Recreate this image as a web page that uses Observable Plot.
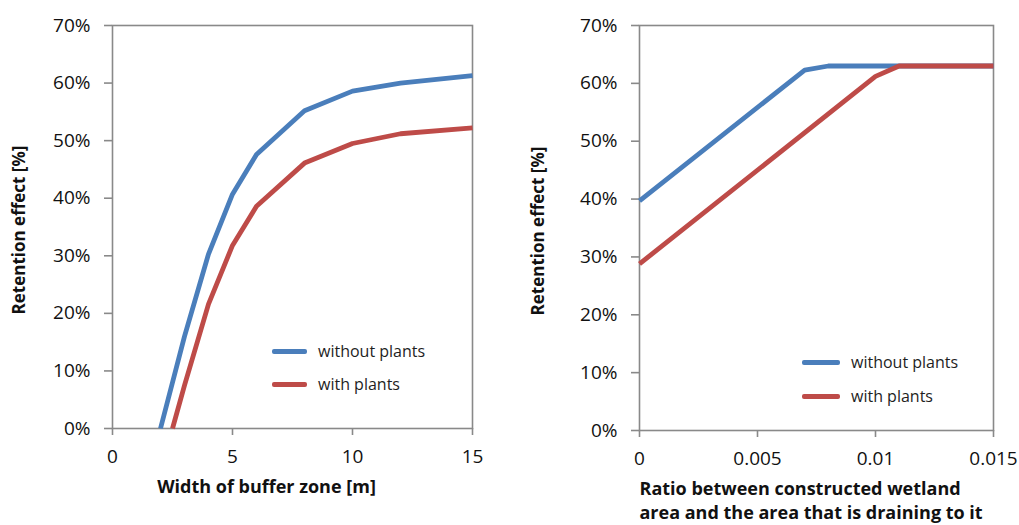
<!DOCTYPE html>
<html>
<head>
<meta charset="utf-8">
<script src="https://cdn.jsdelivr.net/npm/d3@7"></script>
<script src="https://cdn.jsdelivr.net/npm/@observablehq/plot@0.6"></script>
<style>
  html, body { margin: 0; padding: 0; background: #fff; }
  #wrap { position: relative; width: 1019px; height: 525px; overflow: hidden; font-family: "Open Sans", sans-serif; }
  .panel { position: absolute; top: 0; }
  .legend { position: absolute; font-family: "Open Sans", sans-serif; font-size: 16px; color: #1e1e1e; }
  .legend .row { position: absolute; white-space: nowrap; display: flex; align-items: center; }
  .legend .sw { display: inline-block; height: 5px; border-radius: 2px; margin-right: 11px; }
</style>
</head>
<body>
<div id="wrap"></div>
<script>
// ---- Data ----
const seriesNames = ["without plants", "with plants"];
const seriesColors = ["#4a7ebb", "#be4b48"];

// Left panel: width of buffer zone [m]
const bufferWidthWithout = [2, 3, 4, 5, 6, 8, 10, 12, 15];
const retentionBufferWithout = [0, 0.16, 0.303, 0.407, 0.476, 0.552, 0.586, 0.600, 0.613];
const bufferWidthWith = [2.5, 3, 4, 5, 6, 8, 10, 12, 15];
const retentionBufferWith = [0, 0.075, 0.216, 0.318, 0.386, 0.461, 0.495, 0.512, 0.522];

// Right panel: ratio wetland area / draining area
const ratioWithout = [0, 0.007, 0.008, 0.011, 0.015];
const retentionRatioWithout = [0.397, 0.623, 0.63, 0.63, 0.63];
const ratioWith = [0, 0.010, 0.011, 0.015];
const retentionRatioWith = [0.288, 0.612, 0.63, 0.63];

const leftXTicks = [0, 5, 10, 15];
const rightXTicks = [0, 0.005, 0.01, 0.015];
const yTicks = [0, 0.1, 0.2, 0.3, 0.4, 0.5, 0.6, 0.7];

const yTitle = "Retention effect [%]";
const leftXTitle = "Width of buffer zone [m]";
const rightXTitle = "Ratio between constructed wetland\narea and the area that is draining to it";

// ---- Build ----
const gray = "#898989";
const ink = "#111";

function toRows(xs, ys, s) { return xs.map((x, i) => ({x, y: ys[i], s})); }

function panel({rows, xDomain, xTicks, xFmt, margins, width, xTitle, xTitleAnchor, xTitleDx, yTitleDx}) {
  return Plot.plot({
    width, height: 525,
    marginLeft: margins[0], marginRight: margins[1], marginTop: margins[2], marginBottom: margins[3],
    style: {fontFamily: "Open Sans, sans-serif", background: "#fff", overflow: "visible"},
    x: {domain: xDomain},
    y: {domain: [0, 0.7]},
    marks: [
      Plot.frame({stroke: gray, strokeWidth: 1.6}),
      Plot.axisY({ticks: yTicks, tickFormat: d3.format(".0%"), tickSize: 8, tickPadding: 14,
        fontSize: 19, stroke: gray, strokeWidth: 1.6, fill: ink, label: null}),
      Plot.axisX({ticks: xTicks, tickFormat: xFmt, tickSize: 7, tickPadding: 14,
        fontSize: 19, stroke: gray, strokeWidth: 1.6, fill: ink, label: null}),
      Plot.line(rows, {x: "x", y: "y", z: "s", stroke: "s", strokeWidth: 4.8,
        strokeLinejoin: "round", strokeLinecap: "butt"}),
      Plot.text([yTitle], {frameAnchor: "left", textAnchor: "middle", rotate: -90, dx: yTitleDx, dy: 3,
        fontSize: 17, fontWeight: "bold", fill: "#111"}),
      Plot.text([xTitle], {frameAnchor: xTitleAnchor, textAnchor: xTitleAnchor === "bottom-left" ? "start" : "middle",
        lineAnchor: "top", dx: xTitleDx, dy: 48, lineHeight: 1.32,
        fontSize: 18, fontWeight: "bold", fill: "#111"})
    ],
    color: {domain: seriesNames, range: seriesColors}
  });
}

const wrap = document.getElementById("wrap");

const left = panel({
  rows: [...toRows(bufferWidthWithout, retentionBufferWithout, seriesNames[0]),
         ...toRows(bufferWidthWith, retentionBufferWith, seriesNames[1])],
  xDomain: [0, 15], xTicks: leftXTicks, xFmt: d3.format("d"),
  margins: [112, 38, 25, 97], width: 510,
  xTitle: leftXTitle, xTitleAnchor: "bottom", xTitleDx: -26, yTitleDx: -93
});
left.classList.add("panel"); left.style.left = "0px";
wrap.appendChild(left);

const right = panel({
  rows: [...toRows(ratioWithout, retentionRatioWithout, seriesNames[0]),
         ...toRows(ratioWith, retentionRatioWith, seriesNames[1])],
  xDomain: [0, 0.015], xTicks: rightXTicks, xFmt: d => d === 0 ? "0" : String(+d.toFixed(3)),
  margins: [129, 26, 25, 95], width: 509,
  xTitle: rightXTitle, xTitleAnchor: "bottom-left", xTitleDx: 0, yTitleDx: -101
});
right.classList.add("panel"); right.style.left = "510px";
wrap.appendChild(right);

// Legends (HTML, outside the plots)
function legend(x, ys, lineW) {
  const lg = document.createElement("div");
  lg.className = "legend";
  seriesNames.forEach((name, i) => {
    const row = document.createElement("div");
    row.className = "row";
    row.style.left = x + "px";
    row.style.top = (ys[i] - 11) + "px";
    row.style.height = "22px";
    const sw = document.createElement("span");
    sw.className = "sw";
    sw.style.width = lineW + "px";
    sw.style.background = seriesColors[i];
    row.appendChild(sw);
    row.appendChild(document.createTextNode(name));
    lg.appendChild(row);
  });
  wrap.appendChild(lg);
}
legend(272, [351, 384], 35);
legend(802, [362, 396], 38);
</script>
</body>
</html>
